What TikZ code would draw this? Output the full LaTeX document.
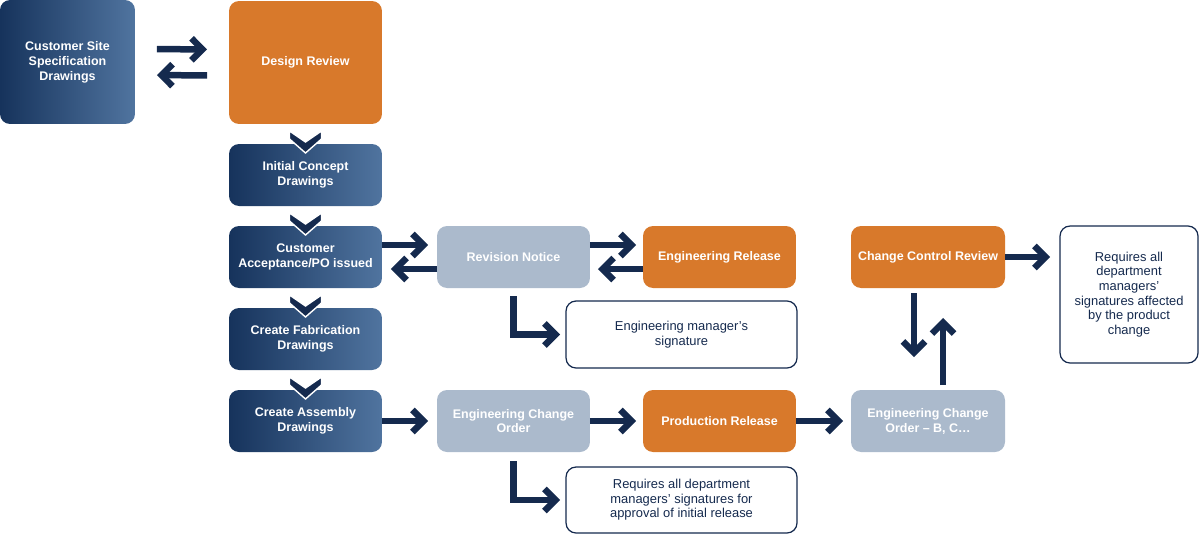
\documentclass[tikz,border=0pt]{standalone}
\usepackage{fontspec}
\setmainfont{Liberation Sans}
\usetikzlibrary{arrows.meta}
\definecolor{navy}{HTML}{152A4E}
\definecolor{gl}{HTML}{16335C}
\definecolor{gr}{HTML}{50749F}
\definecolor{orng}{HTML}{D8792B}
\definecolor{greyb}{HTML}{ABBACC}
\begin{document}
\begin{tikzpicture}[x=0.02cm,y=-0.02cm,
  box/.style={rounded corners=0.2cm, minimum width=3.06cm, minimum height=1.24cm, inner sep=0pt, outer sep=0pt, align=center, font=\fontsize{7.1}{8.5}\selectfont\bfseries, text=white},
  blue box/.style={box, left color=gl, right color=gr},
  orange box/.style={box, fill=orng},
  grey box/.style={box, fill=greyb},
  note/.style={box, fill=white, draw=navy, line width=0.7pt, text=navy, font=\fontsize{7.35}{8.3}\selectfont},
  arr/.style={draw=navy, line width=0.13cm, -{Straight Barb[length=0.22cm,width=0.44cm]}},
  chev/.style={fill=navy, draw=white, line width=0.8pt}]
\useasboundingbox (0,0) rectangle (1199,535);

\node[blue box, minimum width=2.7cm, minimum height=2.48cm] (cs) at (67.5,62) {Customer Site\\Specification\\Drawings};
\node[orange box, minimum height=2.46cm] (dr) at (305.5,62.5) {Design Review};
\node[blue box] (ic) at (305.5,175) {Initial Concept\\Drawings};
\node[blue box] (ca) at (305.5,257) {Customer\\Acceptance/PO issued};
\node[blue box] (cf) at (305.5,339) {Create Fabrication\\Drawings};
\node[blue box] (cas) at (305.5,421) {Create Assembly\\Drawings};
\node[grey box] (rn) at (513.5,257) {Revision Notice};
\node[orange box] (er) at (719.5,257) {Engineering Release};
\node[note, minimum width=4.62cm, minimum height=1.34cm] (ems) at (681.5,334.5) {Engineering manager’s\\signature};
\node[grey box] (eco) at (513.5,421) {Engineering Change\\Order};
\node[orange box] (pr) at (719.5,421) {Production Release};
\node[note, minimum width=4.62cm, minimum height=1.32cm] (req1) at (681.5,500) {Requires all department\\managers’ signatures for\\approval of initial release};
\node[orange box, minimum width=3.08cm] (ccr) at (928,257) {Change Control Review};
\node[grey box, minimum width=3.08cm] (ecob) at (928,421) {Engineering Change\\Order – B, C…};
\node[note, minimum width=2.76cm, minimum height=2.74cm] (req2) at (1129,294.5) {Requires all\\department\\managers’\\signatures affected\\by the product\\change};

% chevrons
\foreach \n in {dr,ic,ca,cf}{
  \filldraw[chev, shift={(\n.south)}] (-16,7) -- (0,18) -- (16,7) -- (16,15) -- (0,29) -- (-16,15) -- cycle;
}

% arrows
\draw[arr, shorten <=0.44cm, shorten >=0.44cm] ([yshift=0.26cm]cs.east) -- ([yshift=0.26cm]dr.west);
\draw[arr, shorten <=0.44cm, shorten >=0.44cm] ([yshift=-0.26cm]dr.west) -- ([yshift=-0.26cm]cs.east);
\draw[arr, shorten >=0.18cm] ([yshift=0.24cm]ca.east) -- ([yshift=0.24cm]rn.west);
\draw[arr, shorten >=0.18cm] ([yshift=-0.24cm]rn.west) -- ([yshift=-0.24cm]ca.east);
\draw[arr, shorten >=0.14cm] ([yshift=0.24cm]rn.east) -- ([yshift=0.24cm]er.west);
\draw[arr, shorten >=0.16cm] ([yshift=-0.24cm]er.west) -- ([yshift=-0.24cm]rn.east);
\draw[arr, shorten >=0.18cm] (cas.east) -- (eco.west);
\draw[arr, shorten >=0.14cm] (eco.east) -- (pr.west);
\draw[arr, shorten >=0.16cm] (pr.east) -- (ecob.west);
\draw[arr, shorten >=0.2cm] (ccr.east) -- (ccr.east -| req2.west);
\draw[arr, shorten <=0.1cm, shorten >=0.66cm] ([xshift=-0.28cm]ccr.south) -- ([xshift=-0.28cm]ecob.north);
\draw[arr, shorten <=0.1cm, shorten >=0.6cm] ([xshift=0.3cm]ecob.north) -- ([xshift=0.3cm]ccr.south);
\draw[arr, shorten <=0.16cm, shorten >=0.12cm] (rn.south) |- (ems.west);
\draw[arr, shorten <=0.18cm, shorten >=0.12cm] (eco.south) |- (req1.west);
\end{tikzpicture}
\end{document}
